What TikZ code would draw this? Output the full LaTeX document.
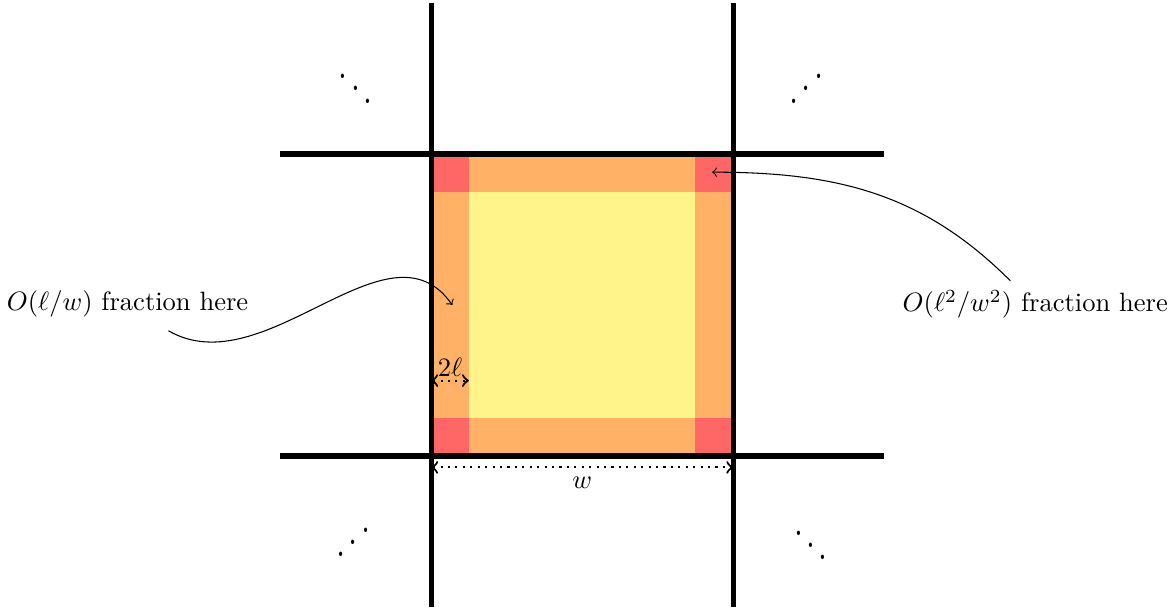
\documentclass[tikz,border=0pt]{standalone}
\usepackage{tikz}
\usetikzlibrary{calc}
\definecolor{cellRojo}{HTML}{FF6666}
\definecolor{cellNaranja}{HTML}{FFB266}
\definecolor{cellAmarillo}{HTML}{FFF489}
\begin{document}
\begin{tikzpicture}[grid/.style={line width=2pt}, dimarrow/.style={dotted, thick, <->},
    dotsnode/.style={xscale=1.2, yscale=1.55}]
    \useasboundingbox (-5.71,-2.02) rectangle (9.85,6.04);
    % the cell and its bands
    \fill[cellNaranja] (0,0) rectangle (4,4);
    \fill[cellAmarillo] (0.5,0.5) rectangle (3.5,3.5);
    \foreach \x/\y in {0/0, 3.5/0, 0/3.5, 3.5/3.5}
      \fill[cellRojo] (\x,\y) rectangle ++(0.5,0.5);
    % grid lines
    \foreach \c in {0,4} {
      \draw[grid] (\c,-2) -- (\c,6);
      \draw[grid] (-2,\c) -- (6,\c);
    }
    % dots
    \node[dotsnode] (dotsNW) at (-1,5.03) {$\ddots$};
    \node[dotsnode] (dotsNE) at (4.97,5.03) {\reflectbox{$\ddots$}};
    \node[dotsnode] (dotsSW) at (-1.03,-0.98) {\reflectbox{$\ddots$}};
    \node[dotsnode] (dotsSE) at (5.03,-1.02) {$\ddots$};
    % dimensions
    \coordinate (wL) at (0,-0.15);
    \coordinate (wR) at (4,-0.15);
    \draw[dimarrow] (wL) -- (wR) node[midway, below] (wlbl) {$w$};
    \coordinate (lL) at (0,1);
    \coordinate (lR) at (0.5,1);
    \draw[dimarrow] (lL) -- (lR) node[midway, above, inner sep=1pt] (llbl) {$2\ell$};
    % annotations
    \node (edgelbl) at (-4.02,2.01) {$O(\ell/w)$ fraction here};
    \node (cornerlbl) at (8.0,2.01) {$O(\ell^2/w^2)$ fraction here};
    \coordinate (edgept) at (0.28,2.0);
    \coordinate (cornerpt) at (3.72,3.76);
    \draw[->] ($(edgelbl.south)+(0.54,-0.05)$) to[out=-30, in=125] (edgept);
    \draw[->] ($(cornerlbl.north)+(-0.33,0)$) to[out=135, in=0] (cornerpt);
  \end{tikzpicture}
\end{document}
